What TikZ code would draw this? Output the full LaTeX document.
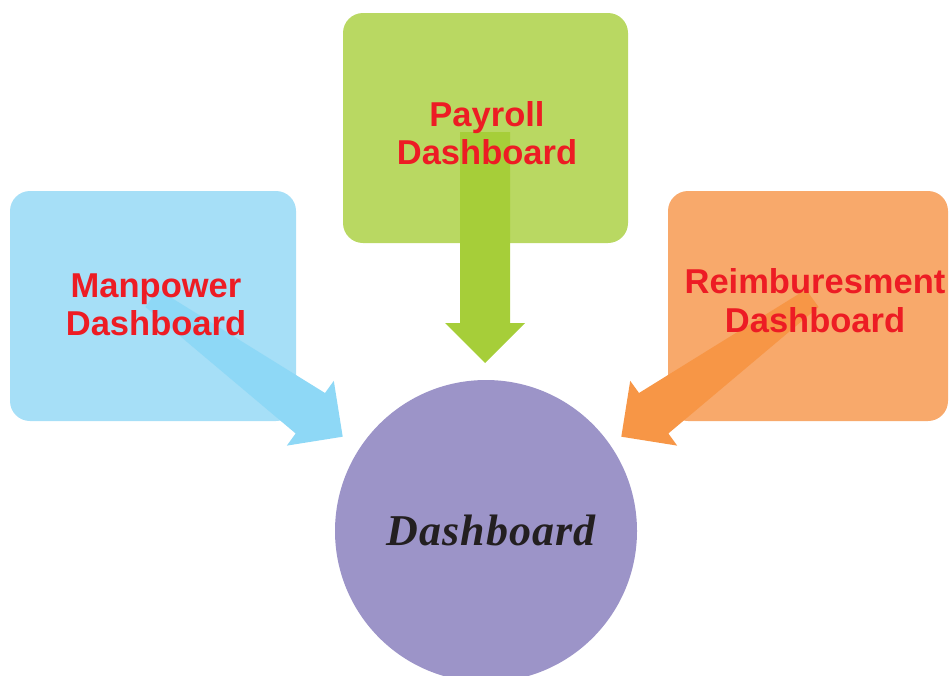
\documentclass[tikz,border=0pt]{standalone}
\usepackage{fontspec}
\setmainfont{Liberation Sans}
\newfontfamily\hubfont[LetterSpace=2.5]{Liberation Serif}
\usetikzlibrary{calc}

\definecolor{manfill}{HTML}{A6DFF7}
\definecolor{manarrow}{HTML}{8ED8F6}
\definecolor{payfill}{HTML}{B9D862}
\definecolor{payarrow}{HTML}{A6CE39}
\definecolor{reimfill}{HTML}{F8A96B}
\definecolor{reimarrow}{HTML}{F79646}
\definecolor{hubfill}{HTML}{9C94C8}
\definecolor{titlered}{HTML}{ED1C24}
\definecolor{hubtext}{HTML}{231F20}

% block arrow from #1 (tail) to #2 (tip); #3 = half width of the tail end
\newcommand\blockarrow[4]{%
  \coordinate (hb) at ($(#2)!40pt!(#1)$);
  \fill[#4] ($(#1)!#3!90:(#2)$) -- ($(hb)!25pt!90:(#2)$) -- ($(hb)!40pt!90:(#2)$)
    -- (#2) -- ($(hb)!40pt!-90:(#2)$) -- ($(hb)!25pt!-90:(#2)$)
    -- ($(#1)!#3!-90:(#2)$) -- cycle;
}

\begin{document}
\begin{tikzpicture}[x=1pt,y=-1pt,
  panel/.style={rectangle, rounded corners=20pt, inner sep=0pt,
    minimum width=286pt, minimum height=230pt},
  paneltext/.style={align=center, inner sep=0pt, text=titlered,
    font=\fontsize{34.5}{38.5}\selectfont\bfseries}]
\useasboundingbox (0,0) rectangle (949,675);

% source panels
\node[panel, fill=manfill] (manbox) at (153,306) {};
\node[panel, fill=payfill, minimum width=285pt] (paybox) at (485.5,128) {};
\node[panel, fill=reimfill, minimum width=280pt] (reimbox) at (808,306) {};

% arrow ends
\coordinate (mantail) at (151.75,298.25);
\coordinate (mantip) at (342.7,436.7);
\coordinate (paytail) at (485,132);
\coordinate (paytip) at (485,363);
\coordinate (reimtail) at (812.25,298.25);
\coordinate (reimtip) at (621.3,436.7);

\blockarrow{mantail}{mantip}{10.75pt}{manarrow}
\blockarrow{paytail}{paytip}{25pt}{payarrow}
\blockarrow{reimtail}{reimtip}{10.75pt}{reimarrow}

% panel titles
\node[paneltext] (mantext) at (156,305) {Manpower\\Dashboard};
\node[paneltext] (paytext) at (487,133) {Payroll\\Dashboard};
\node[paneltext] (reimtext) at (815,300.5) {Reimburesment\\Dashboard};

% central hub
\node[circle, fill=hubfill, minimum size=302pt, inner sep=0pt] (hub) at (486,531) {};
\node[inner sep=0pt, text=hubtext, anchor=base,
  font=\hubfont\fontsize{44}{48}\selectfont\bfseries\itshape]
  (hublabel) at (491,545) {Dashboard};
\end{tikzpicture}
\end{document}
